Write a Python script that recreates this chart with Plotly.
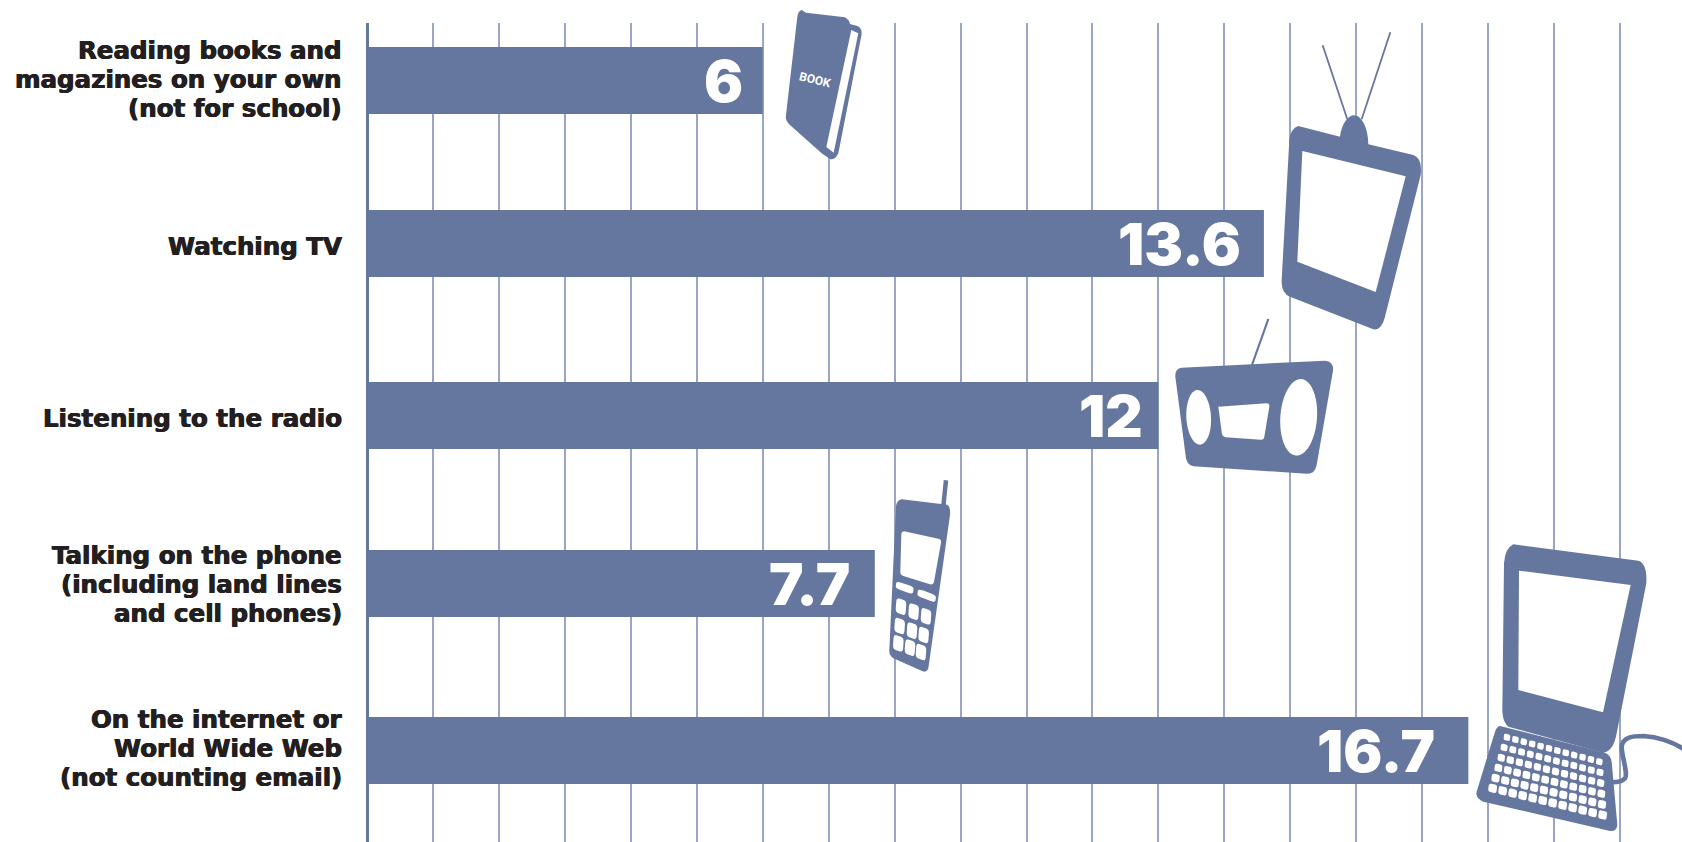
import math
import re
import plotly.graph_objects as go

# Average hours per week spent on each activity
categories = [
    ["Reading books and", "magazines on your own", "(not for school)"],
    ["Watching TV"],
    ["Listening to the radio"],
    ["Talking on the phone", "(including land lines", "and cell phones)"],
    ["On the internet or", "World Wide Web", "(not counting email)"],
]
hours = [6, 13.6, 12, 7.7, 16.7]
row_centres = [80.5, 243.5, 415.5, 583.5, 750.5]
label_centres = [79, 246, 418, 584, 748.5]
value_insets = [18, 21, 13.5, 23, 31]
grid_ticks = list(range(0, 20))

BLUE = "#65779f"
GRID = "#9aa6c6"
INK = "#231f20"
WIDTH, HEIGHT = 1682, 842
LEFT, TOP = 367, 23
UNIT = 65.95
LINE_PITCH = 29


def to_paper(px, py):
    return (px - LEFT) / (WIDTH - LEFT), (HEIGHT - py) / (HEIGHT - TOP)


def place(path, ox, oy):
    """Convert an icon path in local units (3 per pixel, origin ox, oy) to paper coordinates."""
    def swap(m):
        x, y = to_paper(ox + float(m.group(1)) / 3, oy + float(m.group(2)) / 3)
        return f"{x:.5f} {y:.5f}"
    return re.sub(r"(-?[\d.]+)[ ,]+(-?[\d.]+)", swap, path)


def solid(path, ox, oy, color=BLUE):
    return dict(type="path", xref="paper", yref="paper", path=place(path, ox, oy),
                fillcolor=color, line=dict(width=0), layer="above")


def stroke(path, ox, oy, width):
    return dict(type="path", xref="paper", yref="paper", path=place(path, ox, oy),
                line=dict(color=BLUE, width=width), layer="above")


def ellipse(cx, cy, rx, ry, tilt):
    t = math.radians(tilt)
    pts = []
    for i in range(48):
        a = 2 * math.pi * i / 48
        ex, ey = rx * math.cos(a), ry * math.sin(a)
        pts.append(f"{cx + ex * math.cos(t) - ey * math.sin(t):.1f} {cy + ex * math.sin(t) + ey * math.cos(t):.1f}")
    return "M " + " L ".join(pts) + " Z"


def key(cx, cy, ux, uy, vx, vy, r=0.28):
    """Rounded parallelogram centred on cx, cy with half-axes u and v."""
    corners = [(cx - ux - vx, cy - uy - vy), (cx + ux - vx, cy + uy - vy),
               (cx + ux + vx, cy + uy + vy), (cx - ux + vx, cy - uy + vy)]
    out = []
    for i, (x, y) in enumerate(corners):
        px, py = corners[i - 1]
        nx, ny = corners[(i + 1) % 4]
        a = (x + (px - x) * r, y + (py - y) * r)
        b = (x + (nx - x) * r, y + (ny - y) * r)
        out.append(f"{'M' if i == 0 else 'L'} {a[0]:.1f} {a[1]:.1f} Q {x:.1f} {y:.1f} {b[0]:.1f} {b[1]:.1f}")
    return " ".join(out) + " Z"


shapes = []

# Book
ox, oy = 770, 0
shapes.append(solid("M 95 30 L 108 38 L 225 52 Q 238 60 240 72 L 262 78 Q 277 85 275 102 L 205 460 "
                    "Q 195 482 180 477 L 155 460 L 60 375 Q 45 362 48 345 L 82 50 Q 85 32 95 30 Z", ox, oy))
shapes.append(solid("M 244 90 L 265 100 L 191 458 L 169 441 Z", ox, oy, "white"))

# Television
ox, oy = 1100, 0
shapes.append(stroke("M 668 136 L 742 358", ox, oy, 1.8))
shapes.append(stroke("M 871 97 L 785 358", ox, oy, 1.8))
shapes.append(solid("M 595 378 L 720 410 C 725 370 745 346 762 346 C 785 346 805 385 805 433 L 940 465 "
                    "Q 968 475 962 525 L 855 950 Q 845 992 820 988 L 570 890 Q 543 880 545 840 "
                    "L 568 420 Q 572 385 595 378 Z", ox, oy))
shapes.append(solid("M 607 453 L 917 529 L 827 876 L 592 785 Z", ox, oy, "white"))

# Radio
ox, oy = 1150, 300
shapes.append(stroke("M 355 57 L 306 195", ox, oy, 2.2))
shapes.append(solid("M 95 203 L 525 182 Q 552 185 549 212 L 500 495 Q 495 522 470 521 L 130 499 "
                    "Q 112 495 108 475 L 76 230 Q 75 205 95 203 Z", ox, oy))
shapes.append(solid(ellipse(146, 352, 37, 82, -3), ox, oy, "white"))
shapes.append(solid(ellipse(446, 352, 55, 115, 4), ox, oy, "white"))
shapes.append(solid("M 205 320 L 350 310 Q 359 310 358 320 L 343 410 Q 342 419 333 419 L 226 412 "
                    "Q 218 411 216 403 Z", ox, oy, "white"))

# Mobile phone
ox, oy = 860, 470
shapes.append(stroke("M 258 31 L 250 108", ox, oy, 4.5))
shapes.append(solid("M 125 88 L 262 104 Q 272 110 270 135 L 205 595 Q 200 608 188 604 L 100 565 "
                    "Q 86 555 88 540 L 108 110 Q 110 90 125 88 Z", ox, oy))
shapes.append(solid("M 132 184 L 235 206 Q 245 208 243 218 L 222 335 Q 220 345 210 343 L 130 318 "
                    "Q 120 314 121 305 L 124 192 Q 125 184 132 184 Z", ox, oy, "white"))
phone_keys = [key(134, 353, 26, 9, -1.5, 11), key(200, 377, 27, 10, -1.5, 11)]
for cx, cy in [(123, 410), (161, 425), (198, 439),
               (119, 468), (156, 482), (191, 495),
               (115, 520), (150, 533), (183, 546)]:
    phone_keys.append(key(cx, cy, 15, 5, -1.5, 22))
shapes.append(solid(" ".join(phone_keys), ox, oy, "white"))

# Laptop with its cord
ox, oy = 1440, 530
shapes.append(stroke("M 515 757 Q 545 757 555 745 C 565 730 545 680 545 650 C 548 620 580 618 610 618 "
                     "C 650 620 700 635 735 660", ox, oy, 4.6))
shapes.append(solid("M 220 43 L 595 92 Q 622 100 619 160 L 530 610 Q 520 665 490 668 L 205 590 "
                    "Q 187 575 187 540 L 192 100 Q 195 55 220 43 Z", ox, oy))
shapes.append(solid("M 237 122 L 572 165 L 489 547 L 235 480 Z", ox, oy, "white"))
shapes.append(solid("M 180 588 L 495 668 Q 512 675 515 695 L 532 885 Q 530 905 510 903 L 130 815 "
                    "Q 105 805 110 785 L 165 605 Q 170 590 180 588 Z", ox, oy))
board = []
tl, tr, bl, br = (201, 622), (478, 695), (158, 775), (488, 855)
for row in range(6):
    v = row / 5
    for col in range(12):
        u = col / 11
        cx = (1 - v) * ((1 - u) * tl[0] + u * tr[0]) + v * ((1 - u) * bl[0] + u * br[0])
        cy = (1 - v) * ((1 - u) * tl[1] + u * tr[1]) + v * ((1 - u) * bl[1] + u * br[1])
        size = 9.5 + 3 * v
        board.append(key(cx, cy, size, size * 0.22, -size * 0.12, size))
shapes.append(solid(" ".join(board), ox, oy, "white"))

fig = go.Figure(go.Bar(
    x=hours, y=row_centres, orientation="h", width=67,
    marker=dict(color=BLUE, line=dict(width=0)),
    hoverinfo="skip",
))

annotations = [
    dict(x=v, y=y, xref="x", yref="y", text=f"{v:g}", showarrow=False, xanchor="right", xshift=-inset,
         font=dict(family="Inter", size=58, color="white", weight=900))
    for v, y, inset in zip(hours, row_centres, value_insets)
]
# Category labels, one annotation per line so the leading can stay tighter than the tick default
for lines, centre in zip(categories, label_centres):
    for i, line in enumerate(lines):
        annotations.append(dict(
            x=0, y=centre + (i - (len(lines) - 1) / 2) * LINE_PITCH, xref="x", yref="y",
            text=line, showarrow=False, xanchor="right", xshift=-23,
            font=dict(family="DejaVu Sans", size=24.5, color=INK, weight=700,
                      shadow="0.5px 0 0 #231f20, -0.5px 0 0 #231f20"),
        ))
bx, by = to_paper(770 + 135 / 3, 200 / 3)
annotations.append(dict(x=bx, y=by, xref="paper", yref="paper", text="BOOK", showarrow=False, textangle=14,
                        font=dict(family="Roboto", size=12, color="white", weight=700)))

fig.update_layout(
    width=WIDTH, height=HEIGHT,
    margin=dict(l=LEFT, r=0, t=TOP, b=0, autoexpand=False),
    paper_bgcolor="white", plot_bgcolor="white",
    showlegend=False,
    shapes=shapes, annotations=annotations,
    xaxis=dict(range=[0, (WIDTH - LEFT) / UNIT], tickmode="array", tickvals=grid_ticks,
               showticklabels=False, ticks="", showgrid=True, gridcolor=GRID, gridwidth=1.6,
               zeroline=True, zerolinecolor=BLUE, zerolinewidth=3.2, showline=False),
    yaxis=dict(range=[HEIGHT, TOP], showticklabels=False, ticks="", showgrid=False,
               zeroline=False, showline=False),
)

fig.write_html("out.html")
